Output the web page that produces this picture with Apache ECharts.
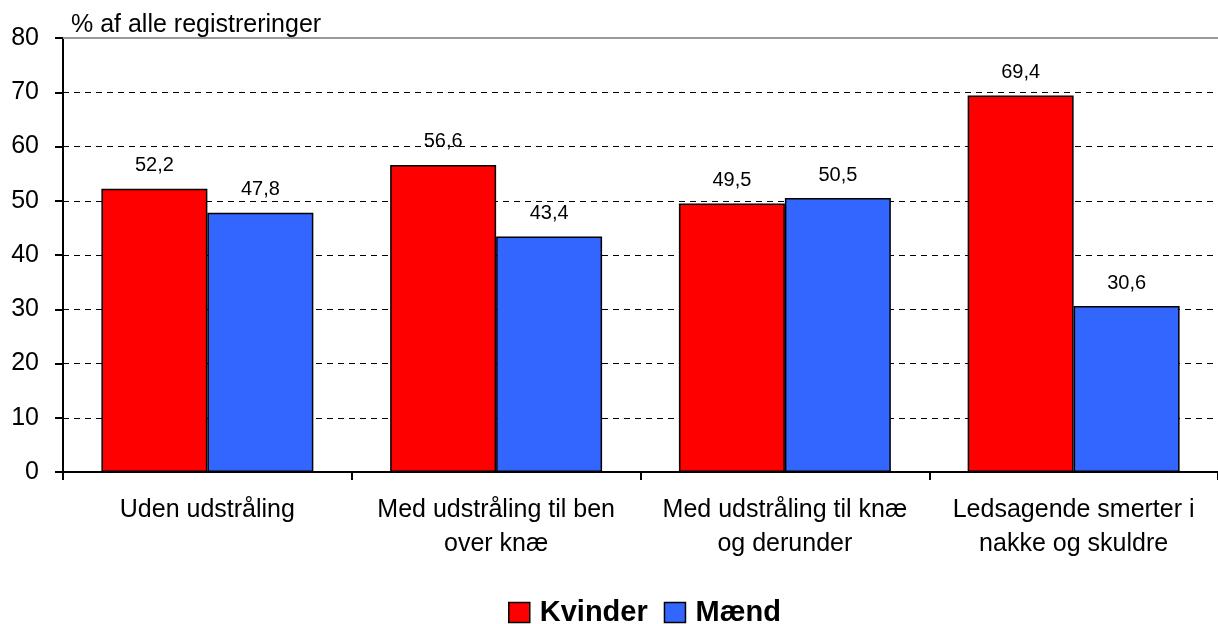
<!DOCTYPE html>
<html><head><meta charset="utf-8">
<script src="https://cdn.jsdelivr.net/npm/echarts@6/dist/echarts.min.js"></script>
<style>html,body{margin:0;padding:0;background:#fff}#c{width:1218px;height:624px}</style>
</head><body><div id="c"></div>
<script>
const categories = ['Uden udstråling', 'Med udstråling til ben\nover knæ', 'Med udstråling til knæ\nog derunder', 'Ledsagende smerter i\nnakke og skuldre'];
const kvinder = [52.2, 56.6, 49.5, 69.4];
const maend = [47.8, 43.4, 50.5, 30.6];
const yTicks = [0, 10, 20, 30, 40, 50, 60, 70, 80];
const fmt = p => String(p.value).replace('.', ',');
const chart = echarts.init(document.getElementById('c'));
const font = 'Liberation Sans, Arial, sans-serif';
chart.setOption({
  animation: false,
  textStyle: { fontFamily: font },
  grid: { left: 63, right: 0, top: 38, bottom: 152 },
  graphic: [{ type: 'line', z: 100, shape: { x1: 63, y1: 38, x2: 1218, y2: 38 }, style: { stroke: '#999', lineWidth: 2 } }],
  title: { text: '% af alle registreringer', left: 66, top: 8, textStyle: { fontSize: 25, fontWeight: 'normal', color: '#000', fontFamily: font } },
  legend: {
    top: 593, left: 503, itemWidth: 21, itemHeight: 20, itemGap: 16, icon: 'rect',
    textStyle: { fontSize: 29, fontWeight: 'bold', color: '#000', fontFamily: font, padding: [0, 0, 0, 5] },
    data: [{ name: 'Kvinder', itemStyle: { borderColor: '#000', borderWidth: 1.5 } }, { name: 'Mænd', itemStyle: { borderColor: '#000', borderWidth: 1.5 } }]
  },
  xAxis: {
    type: 'category', data: categories,
    axisLine: { lineStyle: { color: '#000', width: 2 } },
    axisTick: { show: true, interval: 0, length: 8, lineStyle: { color: '#000', width: 2 } },
    axisLabel: { interval: 0, fontSize: 25, color: '#000', lineHeight: 34, margin: 21, fontFamily: font }
  },
  yAxis: {
    type: 'value', min: 0, max: 80, interval: 10,
    axisLine: { show: true, lineStyle: { color: '#000', width: 2 } },
    axisTick: { show: true, length: 8, lineStyle: { color: '#000', width: 2 } },
    axisLabel: { fontSize: 25, color: '#000', margin: 24, fontFamily: font, formatter: v => yTicks.includes(v) ? String(v) : '' },
    splitLine: { lineStyle: { color: '#000', type: [6, 5], width: 1 } }
  },
  series: [
    { name: 'Kvinder', type: 'bar', data: kvinder, barGap: '0%', barCategoryGap: '26.6%',
      itemStyle: { color: '#FF0000', borderColor: '#000', borderWidth: 1.5 },
      label: { show: true, position: 'top', distance: 13, fontSize: 20, color: '#000', formatter: fmt, fontFamily: font } },
    { name: 'Mænd', type: 'bar', data: maend,
      itemStyle: { color: '#3366FF', borderColor: '#000', borderWidth: 1.5 },
      label: { show: true, position: 'top', distance: 13, fontSize: 20, color: '#000', formatter: fmt, fontFamily: font } }
  ]
});
</script></body></html>
